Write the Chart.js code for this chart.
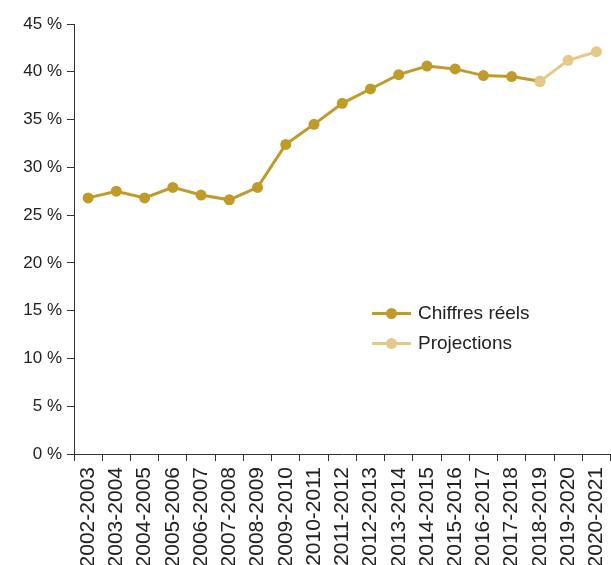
<!DOCTYPE html>
<html lang="fr">
<head>
<meta charset="utf-8">
<title>Part en pourcentage</title>
<script src="https://cdn.jsdelivr.net/npm/chart.js@4.4.3/dist/chart.umd.min.js"></script>
<style>
  html, body { margin: 0; padding: 0; background: #fff; overflow: hidden; }
  body { width: 611px; height: 565px; }
  /* canvas is a touch wider than the page so the last category reaches the edge */
  #wrap { position: relative; width: 616px; height: 565px; }
  #legend {
    position: absolute; left: 372px; top: 298px;
    font-family: "Liberation Sans", Arial, sans-serif; font-size: 19px; color: #222;
  }
  .row { display: flex; align-items: center; height: 30px; }
  .swatch { position: relative; width: 39px; height: 30px; margin-right: 7px; }
  .swatch .ln { position: absolute; left: 0; right: 0; top: 13.5px; height: 3px; }
  .swatch .dot { position: absolute; left: 14px; top: 9.5px; width: 11px; height: 11px; border-radius: 50%; }
</style>
</head>
<body>
<div id="wrap">
  <canvas id="chart"></canvas>
  <div id="legend"></div>
</div>
<script>
  /* ── Data ─────────────────────────────────────────────────────────────── */
  const YEARS = [
    "2002-2003", "2003-2004", "2004-2005", "2005-2006", "2006-2007",
    "2007-2008", "2008-2009", "2009-2010", "2010-2011", "2011-2012",
    "2012-2013", "2013-2014", "2014-2015", "2015-2016", "2016-2017",
    "2017-2018", "2018-2019", "2019-2020", "2020-2021",
  ];
  const ACTUAL = [
    26.8, 27.5, 26.8, 27.9, 27.1, 26.6, 27.9, 32.4, 34.5, 36.7,
    38.2, 39.7, 40.6, 40.3, 39.6, 39.5, 39.0, null, null,
  ];
  const PROJECTED = [
    null, null, null, null, null, null, null, null, null, null,
    null, null, null, null, null, null, 39.0, 41.2, 42.1,
  ];
  const Y_TICKS = [0, 5, 10, 15, 20, 25, 30, 35, 40, 45];

  const GOLD  = "rgb(192,155,42)";
  const LIGHT = "rgb(228,201,138)";
  const INK   = "#222";
  const AXIS  = "#333";
  const FONT  = "'Liberation Sans', Arial, sans-serif";

  const series = [
    { label: "Chiffres réels", data: ACTUAL,    color: GOLD,  order: 1 },
    { label: "Projections",    data: PROJECTED, color: LIGHT, order: 0 },
  ];

  const chart = new Chart(document.getElementById("chart"), {
    type: "line",
    data: {
      labels: YEARS,
      datasets: series.map((s) => ({
        label: s.label,
        data: s.data,
        order: s.order,
        borderColor: s.color,
        backgroundColor: s.color,
        pointBackgroundColor: s.color,
        pointBorderWidth: 0,
        pointRadius: 5.5,
        borderWidth: 3,
        tension: 0,
        spanGaps: false,
      })),
    },
    options: {
      responsive: true,
      maintainAspectRatio: false,
      animation: false,
      layout: { padding: { top: 24, right: 0, left: 0, bottom: 0 } },
      plugins: { legend: { display: false }, tooltip: { enabled: false } },
      scales: {
        x: {
          offset: true,
          grid: { offset: true, drawOnChartArea: false, tickLength: 7, color: AXIS },
          border: { color: AXIS, width: 1 },
          ticks: {
            color: INK, minRotation: 90, maxRotation: 90, padding: 6, autoSkip: false,
            font: { family: FONT, size: 21 },
          },
          afterFit: (s) => {
            s.height = 111;
            s.paddingLeft = 0;
            s.paddingRight = 0;
          },
        },
        y: {
          min: 0, max: 45,
          afterBuildTicks: (s) => { s.ticks = Y_TICKS.map((v) => ({ value: v })); },
          grid: { drawOnChartArea: false, tickLength: 7, color: AXIS },
          border: { color: AXIS, width: 1 },
          ticks: {
            color: INK, padding: 5,
            font: { family: FONT, size: 17 },
            callback: (v) => v + " %",
          },
          afterFit: (s) => { s.width = 74; },
        },
      },
    },
  });

  /* ── Legend inside the plot ───────────────────────────────────────────── */
  const legend = document.getElementById("legend");
  chart.data.datasets.forEach((ds) => {
    const row = document.createElement("div");
    row.className = "row";
    row.innerHTML =
      `<span class="swatch"><span class="ln" style="background:${ds.borderColor}"></span>` +
      `<span class="dot" style="background:${ds.borderColor}"></span></span>` +
      `<span>${ds.label}</span>`;
    legend.appendChild(row);
  });
</script>
</body>
</html>
